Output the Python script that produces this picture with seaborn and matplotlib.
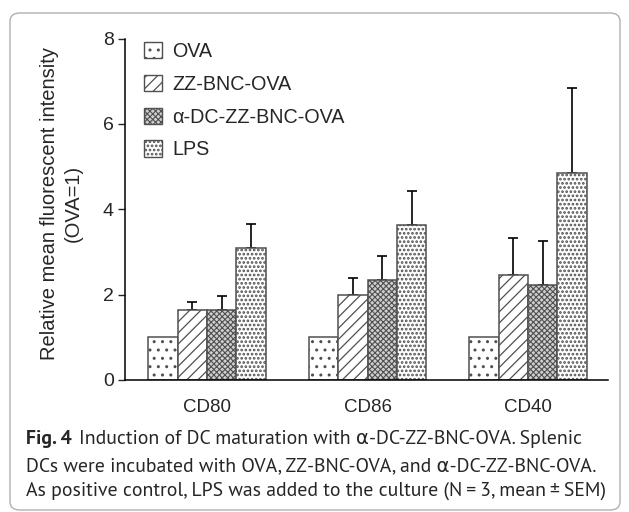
import matplotlib
matplotlib.use("Agg")
import matplotlib.pyplot as plt
import seaborn as sns
import pandas as pd
from matplotlib.patches import FancyBboxPatch

categories = ["CD80", "CD86", "CD40"]
groups = ["OVA", "ZZ-BNC-OVA", "α-DC-ZZ-BNC-OVA", "LPS"]
means = {
    "OVA": [1.0, 1.0, 1.0],
    "ZZ-BNC-OVA": [1.63, 1.98, 2.45],
    "α-DC-ZZ-BNC-OVA": [1.64, 2.35, 2.23],
    "LPS": [3.10, 3.62, 4.86],
}
sem = {
    "OVA": [0.0, 0.0, 0.0],
    "ZZ-BNC-OVA": [0.19, 0.42, 0.88],
    "α-DC-ZZ-BNC-OVA": [0.32, 0.55, 1.02],
    "LPS": [0.55, 0.80, 1.99],
}
yticks = [0, 2, 4, 6, 8]
hatches = {"OVA": "..", "ZZ-BNC-OVA": "///", "α-DC-ZZ-BNC-OVA": "xxxxxx", "LPS": "...."}
faces = {"OVA": "white", "ZZ-BNC-OVA": "white", "α-DC-ZZ-BNC-OVA": "#cfcfcf", "LPS": "white"}
hatch_lw = {"OVA": 1.0, "ZZ-BNC-OVA": 0.9, "α-DC-ZZ-BNC-OVA": 0.8, "LPS": 1.3}

rows = []
for g in groups:
    for c, v in zip(categories, means[g]):
        rows.append({"marker": c, "group": g, "value": v})
df = pd.DataFrame(rows)

sns.set_style("ticks")
plt.rcParams["font.family"] = ["Liberation Sans", "DejaVu Sans"]
plt.rcParams["hatch.linewidth"] = 0.9
plt.rcParams["hatch.color"] = "#2a2a2a"


def style_patch(p, g):
    p.set_hatch(hatches[g])
    p.set_facecolor(faces[g])
    p.set_edgecolor("#505050")
    try:
        p.set_hatch_linewidth(hatch_lw[g])
    except Exception:
        pass


W, H = 629, 512
fig = plt.figure(figsize=(W / 100, H / 100), dpi=100)
y0px, y8px = 380, 38.5
ax = fig.add_axes([125 / W, 1 - y0px / H, (608 - 125) / W, (y0px - y8px) / H])

sns.barplot(data=df, x="marker", y="value", hue="group", order=categories,
            hue_order=groups, palette=["white"] * 4, width=0.732, gap=0,
            edgecolor="#505050", linewidth=1.1, errorbar=None, ax=ax, saturation=1)

for g, cont in zip(groups, ax.containers):
    for i, p in enumerate(cont.patches):
        style_patch(p, g)
        p.set_zorder(2)
        xc = p.get_x() + p.get_width() / 2
        top = p.get_height()
        if sem[g][i] > 0:
            ax.errorbar([xc], [top], yerr=[[0], [sem[g][i]]], fmt="none",
                        ecolor="black", elinewidth=1.2, capsize=3.6, capthick=1.2, zorder=1)

ax.set_ylim(0, 8)
ax.set_xlim(-0.511, 2.498)
ax.set_yticks(yticks)
ax.tick_params(axis="y", labelsize=14, length=5, width=1.0, direction="out", pad=3)
ax.tick_params(axis="x", labelsize=13.5, length=0, pad=14)
ax.set_xlabel("")
ax.set_ylabel("Relative mean fluorescent intensity\n(OVA=1)", fontsize=14.5,
              linespacing=1.3, va="center")
ax.yaxis.set_label_coords(-0.131, 0.518)
sns.despine(ax=ax)
for s in ["left", "bottom"]:
    ax.spines[s].set_linewidth(1.1)
    ax.spines[s].set_color("black")

leg = ax.legend(loc="upper left", bbox_to_anchor=(0.039, 0.99), frameon=False, fontsize=14.2,
                handlelength=0.9, handleheight=0.88, handletextpad=0.55, labelspacing=0.7,
                borderaxespad=0.0, borderpad=0.0)
for h, g in zip(leg.legend_handles, groups):
    style_patch(h, g)
    h.set_linewidth(1.0)

fig.patches.append(FancyBboxPatch((10 / W, 2 / H), 610 / W, 497 / H,
                                  boxstyle="round,pad=0,rounding_size=0.016",
                                  transform=fig.transFigure, fill=False,
                                  edgecolor="#b0b0b0", linewidth=1.0))

# caption
cap_font = ["PT Sans", "DejaVu Sans"]
x_left, x_right = 26, 610
lines_y = [439, 466, 491]
line1b = "Fig. 4"
line1 = "Induction of DC maturation with α-DC-ZZ-BNC-OVA. Splenic"
line2 = "DCs were incubated with OVA, ZZ-BNC-OVA, and α-DC-ZZ-BNC-OVA."
line3 = "As positive control, LPS was added to the culture (N\u2009=\u20093, mean\u2009±\u2009SEM)"

fig.canvas.draw()
r = fig.canvas.get_renderer()
probe = fig.text(0, 0, line3, fontsize=14, family=cap_font)
wpx = probe.get_window_extent(renderer=r).width
probe.remove()
fs = 14 * (x_right - x_left) / wpx

t = fig.text(x_left / W, 1 - lines_y[0] / H, line1b, fontsize=fs, fontweight="bold",
             family=cap_font, va="center", ha="left")
bb = t.get_window_extent(renderer=r)
fig.text(bb.x1 / W + 7 / W, 1 - lines_y[0] / H, line1,
         fontsize=fs, family=cap_font, va="center", ha="left")
fig.text(x_left / W, 1 - lines_y[1] / H, line2, fontsize=fs, family=cap_font,
         va="center", ha="left")
fig.text(x_left / W, 1 - lines_y[2] / H, line3, fontsize=fs, family=cap_font,
         va="center", ha="left")

fig.savefig("out.png", dpi=100)
